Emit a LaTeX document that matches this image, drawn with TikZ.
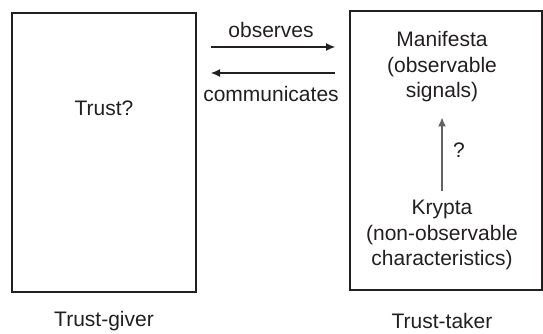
\documentclass[tikz,border=0pt]{standalone}
\usepackage{fontspec}
\setmainfont{Liberation Sans}
\usetikzlibrary{arrows.meta}
\definecolor{ink}{HTML}{231F20}
\tikzset{
  party/.style={ % box standing for one side of the relation
    draw=ink, line width=2.4pt, rectangle, minimum width=184pt,
    minimum height=279pt, inner sep=0pt
  },
  lbl/.style={ % plain text label
    text=ink, align=center, inner sep=1pt,
    font=\fontsize{21}{25.5}\selectfont
  },
  flow/.style={ % arrow between the two sides
    draw=ink, line width=1.1pt, -{Latex[length=9pt,width=8pt]}
  },
  hidden/.style={ % arrow from krypta up to manifesta
    draw=ink!70, line width=1.3pt, -{Latex[length=9pt,width=8pt]}
  }
}
\begin{document}
\begin{tikzpicture}[x=1pt, y=-1pt]
  \useasboundingbox (0,0) rectangle (543,333);

  \node[party] (giver) at (104,152.5) {};
  \node[party, minimum width=192pt] (taker) at (446,150.5) {};

  \node[lbl] (trust) at (104,108) {Trust?};
  \node[lbl] (giverlbl) at (104,321) {Trust-giver};
  \node[lbl] (takerlbl) at (442,321) {Trust-taker};

  \node[lbl] (manifesta) at (442,67) {Manifesta\\(observable\\signals)};
  \node[lbl] (krypta) at (442,235) {Krypta\\(non-observable\\characteristics)};
  \node[lbl] (qmark) at (459,150) {?};

  \coordinate (obsL) at (211,47);
  \coordinate (obsR) at (335,47);
  \coordinate (comL) at (211,73);
  \coordinate (comR) at (335,73);
  \draw[flow] (obsL) -- (obsR);
  \draw[flow] (comR) -- (comL);
  \node[lbl] (observes) at (271,30) {observes};
  \node[lbl] (communicates) at (271,94) {communicates};

  \draw[hidden, shorten <=8pt, shorten >=14pt] (krypta.north) -- (manifesta.south);
\end{tikzpicture}
\end{document}
